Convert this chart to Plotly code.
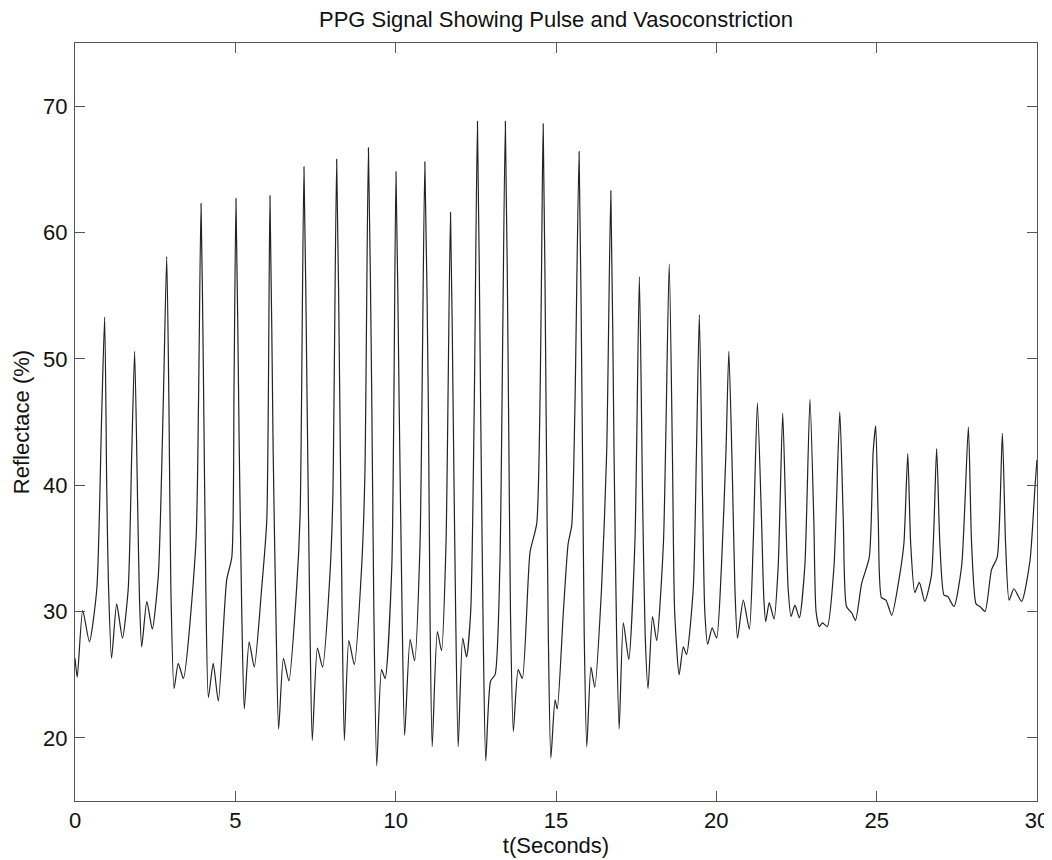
import plotly.graph_objects as go

# Key points (time in s, reflectance in %)
t_sec = [
    0.00, 0.07, 0.24, 0.45, 0.68, 0.83, 0.925, 0.99, 1.04, 1.14, 1.30, 1.48, 1.66, 1.77, 1.86, 1.95, 2.01, 2.08,
    2.24, 2.41, 2.60, 2.75, 2.86, 2.93, 2.99, 3.09, 3.22, 3.38, 3.77, 3.85, 3.93, 4.00, 4.08, 4.16, 4.31, 4.47,
    4.73, 4.89, 4.96, 5.02, 5.12, 5.20, 5.28, 5.43, 5.59, 5.82, 5.98, 6.08, 6.18, 6.27, 6.35, 6.50, 6.67, 6.91,
    7.02, 7.14, 7.24, 7.33, 7.40, 7.56, 7.72, 7.95, 8.04, 8.16, 8.26, 8.33, 8.40, 8.54, 8.71, 8.94, 9.04, 9.15,
    9.25, 9.32, 9.41, 9.56, 9.67, 9.88, 10.01, 10.11, 10.20, 10.28, 10.45, 10.59, 10.76, 10.91, 11.02, 11.07,
    11.14, 11.30, 11.43, 11.57, 11.71, 11.80, 11.87, 11.95, 12.09, 12.21, 12.34, 12.45, 12.55, 12.65, 12.73,
    12.81, 12.96, 13.10, 13.25, 13.42, 13.52, 13.58, 13.67, 13.82, 13.95, 14.19, 14.40, 14.60, 14.69, 14.76,
    14.84, 14.97, 15.04, 15.23, 15.38, 15.49, 15.59, 15.72, 15.82, 15.88, 15.96, 16.09, 16.21, 16.42, 16.58,
    16.71, 16.81, 16.89, 16.97, 17.10, 17.27, 17.46, 17.60, 17.70, 17.78, 17.87, 18.01, 18.14, 18.35, 18.53,
    18.63, 18.70, 18.84, 18.97, 19.07, 19.28, 19.38, 19.47, 19.57, 19.64, 19.73, 19.87, 20.01, 20.16, 20.30,
    20.39, 20.50, 20.58, 20.66, 20.84, 21.03, 21.15, 21.28, 21.41, 21.48, 21.54, 21.65, 21.80, 21.93, 22.07,
    22.17, 22.24, 22.33, 22.45, 22.59, 22.76, 22.92, 23.04, 23.11, 23.21, 23.31, 23.46, 23.67, 23.85, 23.96,
    24.06, 24.22, 24.34, 24.53, 24.77, 24.89, 24.97, 25.05, 25.15, 25.29, 25.47, 25.72, 25.85, 25.97, 26.06,
    26.19, 26.33, 26.50, 26.71, 26.87, 26.97, 27.10, 27.21, 27.41, 27.65, 27.86, 27.96, 28.10, 28.22, 28.38,
    28.58, 28.76, 28.92, 29.02, 29.13, 29.28, 29.52, 29.78, 29.94, 30.00,
]
reflectance = [
    26.3, 24.8, 30.1, 27.6, 31.8, 45.4, 53.3, 39.7, 32.5, 26.3, 30.6, 27.9, 31.8, 42.6, 50.6, 39.0, 31.1, 27.2,
    30.8, 28.6, 32.9, 46.2, 58.1, 46.2, 31.8, 23.9, 25.9, 24.7, 35.4, 46.2, 62.3, 49.8, 31.8, 23.2, 25.9, 22.9,
    32.5, 34.3, 48.0, 62.7, 43.3, 30.0, 22.3, 27.6, 25.6, 31.8, 37.2, 62.9, 42.6, 29.0, 20.7, 26.3, 24.5, 31.8,
    37.6, 65.2, 46.2, 28.2, 19.8, 27.1, 25.6, 32.9, 39.0, 65.8, 46.2, 30.0, 19.8, 27.7, 25.8, 33.6, 40.8, 66.7,
    48.0, 30.0, 17.8, 25.4, 24.7, 33.6, 64.8, 46.2, 30.0, 20.2, 27.8, 26.1, 35.4, 65.6, 46.2, 30.0,
    19.3, 28.4, 26.9, 35.4, 61.6, 44.4, 30.0, 19.3, 27.9, 26.4, 30.0, 46.2, 68.8, 46.2, 28.2,
    18.2, 24.5, 25.0, 33.6, 68.8, 46.2, 30.0, 20.5, 25.4, 24.7, 34.7, 37.0, 68.6, 46.2, 28.2,
    18.4, 23.0, 22.3, 30.0, 35.4, 36.8, 46.2, 66.4, 44.4, 28.2, 19.3, 25.6, 24.0, 31.8, 42.6,
    63.3, 42.6, 28.2, 20.7, 29.1, 26.2, 35.4, 56.5, 39.0, 28.2, 23.9, 29.6, 27.7, 35.4, 57.5,
    42.6, 30.0, 25.0, 27.2, 26.6, 31.8, 42.6, 53.5, 39.0, 30.0, 27.4, 28.7, 27.9, 33.6, 42.6,
    50.6, 40.8, 31.8, 27.9, 30.9, 28.6, 35.4, 46.5, 37.2, 31.1, 29.2, 30.7, 29.4, 33.6, 45.7,
    37.2, 31.8, 29.6, 30.5, 29.5, 33.6, 46.8, 37.2, 30.0, 28.8, 29.1, 28.8, 33.6, 45.8, 37.2,
    30.4, 29.9, 29.3, 32.2, 34.3, 42.6, 44.7, 37.2, 31.1, 30.9, 29.7, 32.9, 35.4, 42.5, 35.4,
    31.5, 32.3, 30.8, 32.9, 42.9, 35.4, 31.3, 31.2, 30.4, 33.6, 44.6, 35.4, 30.6, 30.4, 30.0,
    33.3, 34.3, 44.1, 35.4, 30.9, 31.8, 30.8, 34.0, 40.0, 42.0,
]

x_ticks = [0, 5, 10, 15, 20, 25, 30]
y_ticks = [20, 30, 40, 50, 60, 70]

FONT = "Arial, 'Liberation Sans', sans-serif"

# The page body adds an 8px offset, so the figure is 8px smaller than the window
FIG_W, FIG_H = 1044, 852

fig = go.Figure()
fig.add_trace(go.Scatter(
    x=t_sec, y=reflectance, mode="lines",
    line=dict(color="#222222", width=1.2, shape="spline", smoothing=0.6),
    showlegend=False, hoverinfo="skip",
))

axis_common = dict(
    showline=True, linecolor="#555555", linewidth=1, mirror="ticks",
    ticks="inside", ticklen=10, tickcolor="#555555", tickwidth=1,
    showgrid=False, zeroline=False, automargin=False,
    tickfont=dict(family=FONT, size=22, color="#111111"),
)

fig.update_layout(
    width=FIG_W, height=FIG_H,
    paper_bgcolor="white", plot_bgcolor="white",
    margin=dict(l=67, r=15, t=35, b=59, autoexpand=False),
    title=dict(text="PPG Signal Showing Pulse and Vasoconstriction",
               x=(67 + (FIG_W - 15 - 67) / 2) / FIG_W, xanchor="center",
               y=1 - 11 / FIG_H, yanchor="middle",
               yref="container", automargin=False,
               font=dict(family=FONT, size=22, color="#111111")),
    xaxis=dict(range=[0, 30], tickvals=x_ticks,
               title=dict(text="t(Seconds)", standoff=3,
                          font=dict(family=FONT, size=22, color="#111111")),
               **axis_common),
    yaxis=dict(range=[15, 75], tickvals=y_ticks, ticklabelstandoff=2,
               title=dict(text="Reflectace (%)", standoff=7,
                          font=dict(family=FONT, size=22, color="#111111")),
               **axis_common),
)

fig.write_html("out.html")
